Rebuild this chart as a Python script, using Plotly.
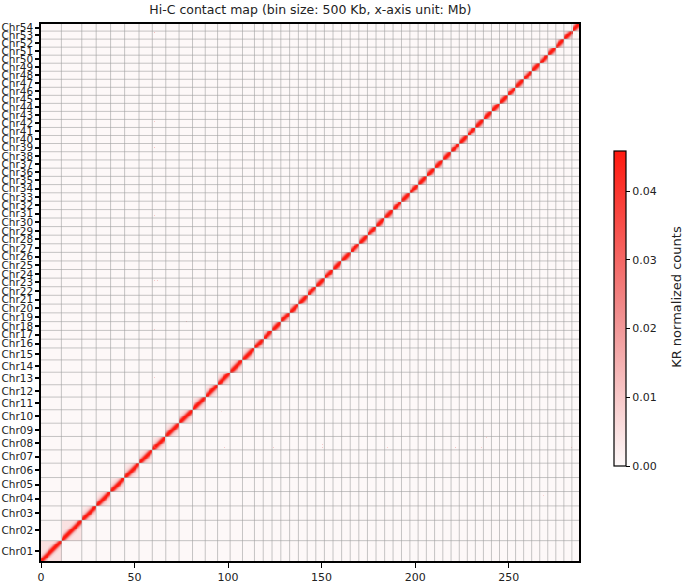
import numpy as np
import plotly.graph_objects as go

# ---------------- data ----------------
chrom_names = ["Chr%02d" % i for i in range(1, 55)]
# chromosome lengths in Mb
chrom_sizes_mb = [10.9, 10.9, 7.7, 7.7, 7.5, 7.7, 7.1, 7.2, 7.1, 7.2,
                  6.8, 6.6, 6.7, 6.6, 6.4,
                  4.7, 4.7, 4.7, 4.7, 4.7, 4.7, 4.6, 4.6, 4.6, 4.6,
                  4.6, 4.6, 4.6, 4.6, 4.6, 4.5, 4.5, 4.5,
                  4.4, 4.4, 4.4, 4.4, 4.4, 4.4, 4.3, 4.3, 4.3, 4.3,
                  4.3, 4.3, 4.3, 4.3, 4.3, 4.3, 4.3, 4.3, 4.3, 4.3, 3.8]
bin_size_mb = 0.5
# contact value by distance from the diagonal (in bins)
diag_profile = [0.046, 0.045, 0.039, 0.029, 0.019, 0.012, 0.0085, 0.0065,
                0.0052, 0.0044, 0.0038, 0.0034, 0.0030, 0.0027]
# background level inside each chromosome block (far from diagonal)
intra_level = [0.0050, 0.0048, 0.0026, 0.0024, 0.0026, 0.0034, 0.0036, 0.0026,
               0.0034, 0.0026] + [0.0018] * 44
inter_level = 0.0002
# a few visible off-diagonal spots: (x Mb, y Mb, value)
spots = [(60.7, 60.7, 0.040), (61.2, 60.7, 0.040), (60.7, 61.2, 0.040),
         (60.5, 283.0, 0.012), (66.0, 238.0, 0.010), (60.5, 235.0, 0.010),
         (60.5, 221.0, 0.012), (60.5, 185.0, 0.010), (60.5, 150.0, 0.010),
         (60.5, 124.0, 0.010), (60.5, 98.0, 0.010), (77.5, 128.0, 0.012),
         (35.0, 268.0, 0.008), (62.0, 150.0, 0.010), (80.0, 96.0, 0.006)]
x_tick_vals = [0, 50, 100, 150, 200, 250]
cbar_tick_vals = [0, 0.01, 0.02, 0.03, 0.04]
cbar_max = 0.0458

# ---------------- build matrix ----------------
bounds = np.concatenate([[0], np.cumsum(chrom_sizes_mb)])
total = bounds[-1]
nb = int(np.ceil(total / bin_size_mb))
centers_bins = (np.arange(nb) + 0.5) * bin_size_mb
chrom_of_bin = np.searchsorted(bounds, centers_bins, side="right") - 1
chrom_of_bin = np.clip(chrom_of_bin, 0, len(chrom_sizes_mb) - 1)

ii, jj = np.meshgrid(np.arange(nb), np.arange(nb), indexing="ij")
same = chrom_of_bin[ii] == chrom_of_bin[jj]
M = np.full((nb, nb), inter_level)
lvl = np.array(intra_level)[chrom_of_bin]
M[same] = lvl[ii][same]
dist = np.abs(ii - jj)
prof = np.array(diag_profile)
near = same & (dist < len(prof))
M[near] = np.maximum(M[near], prof[dist[near]])
for (sx, sy, v) in spots:
    bx = int(sx / bin_size_mb)
    by = int(sy / bin_size_mb)
    if bx < nb and by < nb:
        M[by, bx] = v
        M[bx, by] = v
M = np.round(M, 5)

centers = [(bounds[k] + bounds[k + 1]) / 2 for k in range(len(chrom_sizes_mb))]

fig = go.Figure()
fig.add_trace(go.Heatmap(
    z=M, x0=bin_size_mb / 2, dx=bin_size_mb, y0=bin_size_mb / 2, dy=bin_size_mb,
    zmin=0, zmax=cbar_max,
    colorscale=[[0, "#fdf9f9"], [0.5, "#f08a8a"], [1, "#ff1a10"]],
    showscale=True,
    colorbar=dict(
        x=1.0465, xanchor="left", xref="paper",
        y=0.47, yanchor="middle", len=335, lenmode="pixels",
        thickness=12, outlinewidth=1.2, outlinecolor="black",
        ticks="outside", ticklen=4, tickwidth=1, tickcolor="black",
        tickvals=cbar_tick_vals,
        ticktext=["%.2f" % v for v in cbar_tick_vals],
        tickfont=dict(size=11, color="#222"),
    ),
    hoverinfo="skip",
))

shapes = []
for b in bounds[1:-1]:
    shapes.append(dict(type="line", xref="x", yref="y", x0=b, x1=b, y0=0, y1=total,
                       line=dict(color="rgba(160,160,160,0.6)", width=1), layer="above"))
    shapes.append(dict(type="line", xref="x", yref="y", x0=0, x1=total, y0=b, y1=b,
                       line=dict(color="rgba(160,160,160,0.6)", width=1), layer="above"))

fig.update_layout(
    width=685, height=585,
    margin=dict(l=41, r=106, t=24, b=24, autoexpand=False),
    paper_bgcolor="white", plot_bgcolor="white",
    font=dict(family="DejaVu Sans", color="#222"),
    title=dict(text="Hi-C contact map (bin size: 500 Kb, x-axis unit: Mb)",
               x=0.453, xanchor="center", y=0.983, yanchor="middle",
               font=dict(size=12.5, color="#222")),
    shapes=shapes,
    annotations=[dict(text="KR normalized counts", textangle=-90,
                      xref="paper", yref="paper", x=1.18, y=0.4916,
                      xanchor="center", yanchor="middle", showarrow=False,
                      font=dict(size=13, color="#222"))],
    xaxis=dict(range=[0, total], tickvals=x_tick_vals, ticks="outside", ticklen=5,
               tickwidth=1, tickcolor="black", showgrid=False, zeroline=False,
               showline=True, linecolor="black", linewidth=1.5, mirror=True,
               tickfont=dict(size=11), automargin=False),
    yaxis=dict(range=[0, total], tickvals=centers, ticktext=chrom_names,
               ticks="outside", ticklen=4, tickwidth=1.5, tickcolor="black",
               showgrid=False, zeroline=False, showline=True, linecolor="black",
               linewidth=1.5, mirror=True, tickfont=dict(size=10.5),
               automargin=False),
)

fig.write_html("out.html", config={"displayModeBar": False},
               post_script="document.body.style.margin='0';document.body.style.overflow='hidden';")
